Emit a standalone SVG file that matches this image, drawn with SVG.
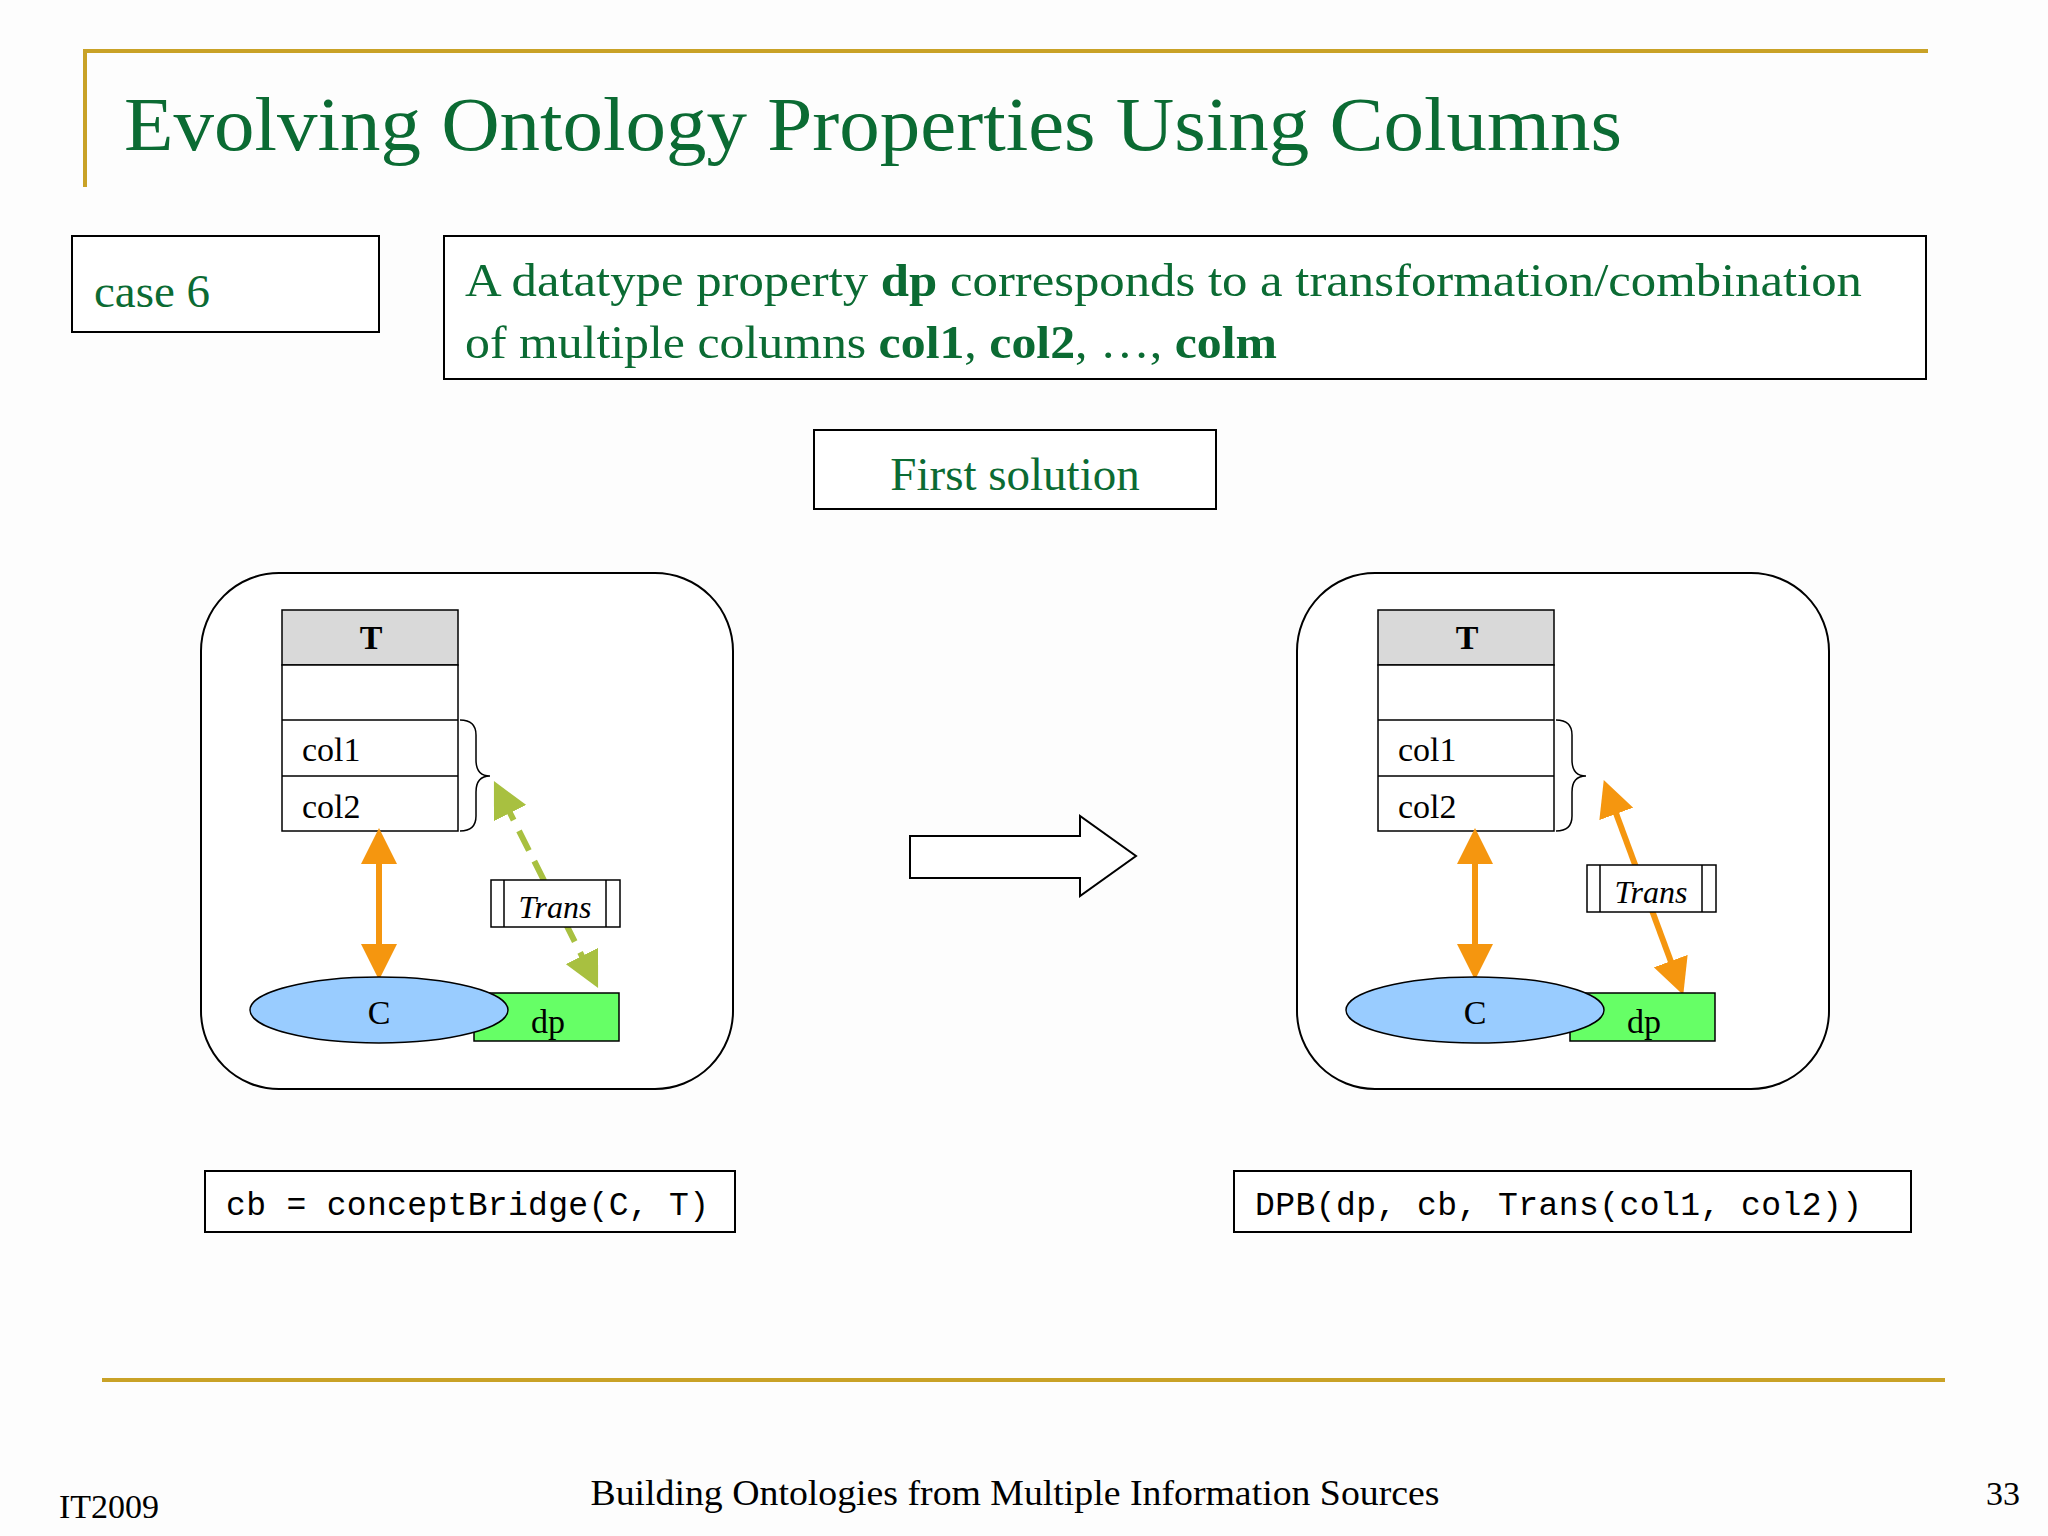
<svg xmlns="http://www.w3.org/2000/svg" width="2048" height="1536" viewBox="0 0 2048 1536">
<style>
.g{fill:#0b6b33;font-family:"Liberation Serif",serif}
.s{font-family:"Liberation Serif",serif;fill:#000}
.m{font-family:"Liberation Mono",monospace;font-size:33px;fill:#000}
.box{fill:#fff;stroke:#000;stroke-width:2}
.or{stroke:#f5960f;stroke-width:6;fill:none}
</style>
<defs>
<marker id="ao" markerWidth="6" markerHeight="6" refX="3" refY="3" orient="auto-start-reverse" markerUnits="strokeWidth" viewBox="0 0 6 6"><path d="M0,0L6,3L0,6Z" fill="#f5960f"/></marker>
<marker id="ag" markerWidth="6" markerHeight="6" refX="3" refY="3" orient="auto-start-reverse" markerUnits="strokeWidth" viewBox="0 0 6 6"><path d="M0,0L6,3L0,6Z" fill="#a8c040"/></marker>
</defs>
<rect width="2048" height="1536" fill="#fdfdfd"/>
<path d="M85,187V51H1928" stroke="#c9a227" stroke-width="4" fill="none"/>
<text class="g" x="124" y="150" font-size="76" textLength="1498" lengthAdjust="spacingAndGlyphs">Evolving Ontology Properties Using Columns</text>
<g id="case"><rect class="box" x="72" y="236" width="307" height="96"/><text class="g" x="94" y="307" font-size="47">case 6</text></g>
<g id="desc"><rect class="box" x="444" y="236" width="1482" height="143"/>
<text class="g" x="465" y="296" font-size="47" textLength="1397" lengthAdjust="spacingAndGlyphs">A datatype property <tspan font-weight="bold">dp</tspan> corresponds to a transformation/combination</text>
<text class="g" x="465" y="358" font-size="47" textLength="812" lengthAdjust="spacingAndGlyphs">of multiple columns <tspan font-weight="bold">col1</tspan>, <tspan font-weight="bold">col2</tspan>, …, <tspan font-weight="bold">colm</tspan></text></g>
<g id="first"><rect class="box" x="814" y="430" width="402" height="79"/><text class="g" x="1015" y="490" font-size="47" text-anchor="middle">First solution</text></g>
<g id="left">
<rect x="201" y="573" width="532" height="516" rx="78" fill="#fff" stroke="#000" stroke-width="2"/>
<rect x="282" y="610" width="176" height="55" fill="#d9d9d9" stroke="#000" stroke-width="1.5"/>
<rect x="282" y="665" width="176" height="166" fill="#fff" stroke="#000" stroke-width="1.5"/>
<path d="M282,720H458M282,776H458" stroke="#000" stroke-width="1.5"/>
<text class="s" x="371" y="649" font-size="34" font-weight="bold" text-anchor="middle">T</text>
<text class="s" x="302" y="761" font-size="34">col1</text><text class="s" x="302" y="818" font-size="34">col2</text>
<path d="M460,720Q476,720 476,735V760Q476,776 490,776Q476,776 476,792V816Q476,831 460,831" stroke="#000" stroke-width="1.5" fill="none"/>
<line class="or" x1="379" y1="846" x2="379" y2="962" marker-start="url(#ao)" marker-end="url(#ao)"/>
<line x1="590" y1="972" x2="502" y2="797" stroke="#a8c040" stroke-width="6" stroke-dasharray="22,12" marker-start="url(#ag)" marker-end="url(#ag)"/>
<rect x="474" y="993" width="145" height="48" fill="#66ff66" stroke="#000" stroke-width="1.5"/>
<ellipse cx="379" cy="1010" rx="129" ry="33" fill="#99ccff" stroke="#000" stroke-width="1.5"/>
<text class="s" x="379" y="1024" font-size="34" text-anchor="middle">C</text>
<text class="s" x="548" y="1033" font-size="34" text-anchor="middle">dp</text>
<rect x="491" y="880" width="129" height="47" fill="#fff" stroke="#000" stroke-width="1.5"/>
<path d="M504,880V927M606,880V927" stroke="#000" stroke-width="1.5"/>
<text class="s" x="555" y="918" font-size="32" font-style="italic" text-anchor="middle">Trans</text>
</g>
<g id="right">
<rect x="1297" y="573" width="532" height="516" rx="78" fill="#fff" stroke="#000" stroke-width="2"/>
<rect x="1378" y="610" width="176" height="55" fill="#d9d9d9" stroke="#000" stroke-width="1.5"/>
<rect x="1378" y="665" width="176" height="166" fill="#fff" stroke="#000" stroke-width="1.5"/>
<path d="M1378,720H1554M1378,776H1554" stroke="#000" stroke-width="1.5"/>
<text class="s" x="1467" y="649" font-size="34" font-weight="bold" text-anchor="middle">T</text>
<text class="s" x="1398" y="761" font-size="34">col1</text><text class="s" x="1398" y="818" font-size="34">col2</text>
<path d="M1556,720Q1572,720 1572,735V760Q1572,776 1586,776Q1572,776 1572,792V816Q1572,831 1556,831" stroke="#000" stroke-width="1.5" fill="none"/>
<line class="or" x1="1475" y1="846" x2="1475" y2="962" marker-start="url(#ao)" marker-end="url(#ao)"/>
<line class="or" x1="1610" y1="797" x2="1677" y2="978" marker-start="url(#ao)" marker-end="url(#ao)"/>
<rect x="1570" y="993" width="145" height="48" fill="#66ff66" stroke="#000" stroke-width="1.5"/>
<ellipse cx="1475" cy="1010" rx="129" ry="33" fill="#99ccff" stroke="#000" stroke-width="1.5"/>
<text class="s" x="1475" y="1024" font-size="34" text-anchor="middle">C</text>
<text class="s" x="1644" y="1033" font-size="34" text-anchor="middle">dp</text>
<rect x="1587" y="865" width="129" height="47" fill="#fff" stroke="#000" stroke-width="1.5"/>
<path d="M1600,865V912M1702,865V912" stroke="#000" stroke-width="1.5"/>
<text class="s" x="1651" y="903" font-size="32" font-style="italic" text-anchor="middle">Trans</text>
</g>
<g id="bigarrow"><path d="M910,836H1080V816L1136,856L1080,896V878H910Z" fill="#fff" stroke="#000" stroke-width="2"/></g>
<g id="code1"><rect class="box" x="205" y="1171" width="530" height="61"/><text class="m" x="226" y="1215" textLength="483">cb = conceptBridge(C, T)</text></g>
<g id="code2"><rect class="box" x="1234" y="1171" width="677" height="61"/><text class="m" x="1255" y="1215" textLength="607">DPB(dp, cb, Trans(col1, col2))</text></g>
<line x1="102" y1="1380" x2="1945" y2="1380" stroke="#c9a227" stroke-width="4"/>
<text class="s" x="59" y="1518" font-size="34">IT2009</text>
<text class="s" x="1015" y="1505" font-size="36" text-anchor="middle" textLength="849" lengthAdjust="spacingAndGlyphs">Building Ontologies from Multiple Information Sources</text>
<text class="s" x="2020" y="1505" font-size="34" text-anchor="end">33</text>
</svg>
